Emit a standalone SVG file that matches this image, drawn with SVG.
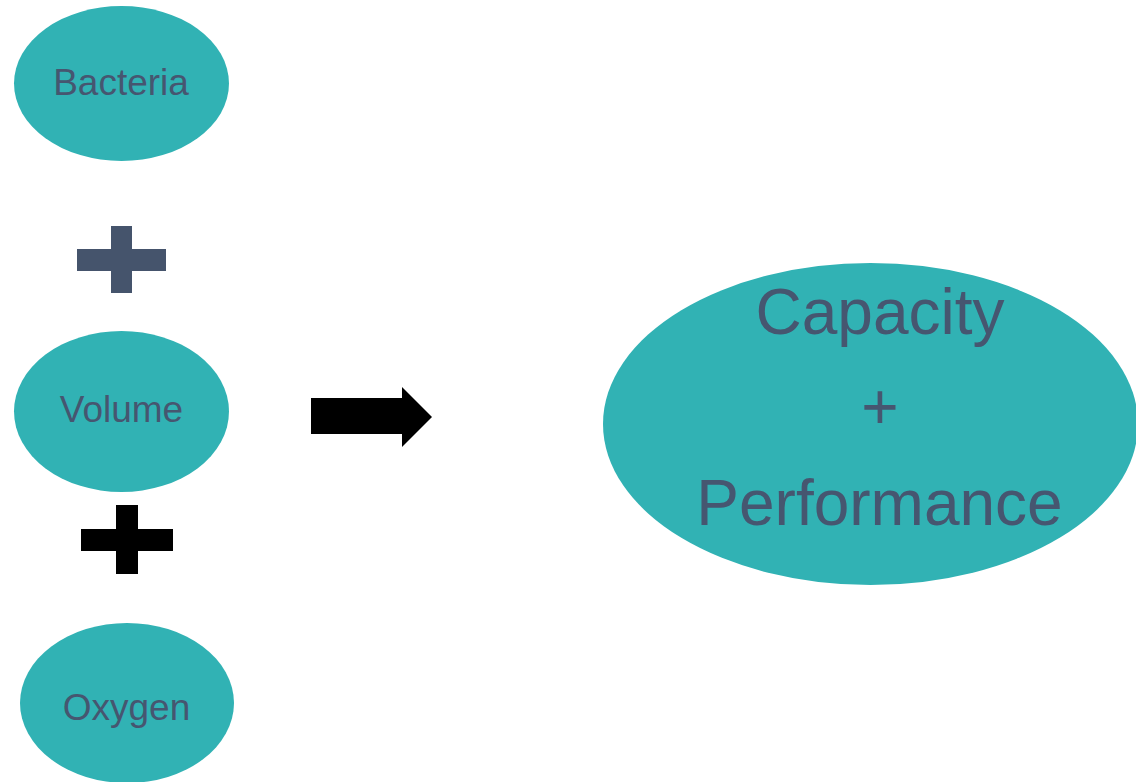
<svg xmlns="http://www.w3.org/2000/svg" width="1136" height="782" viewBox="0 0 1136 782">
<style>
.node{fill:#31b2b4}
.lbl{font-family:"Liberation Sans",Arial,sans-serif;fill:#465670;text-anchor:middle}
.sm{font-size:37px}
.lg{font-size:64px}
</style>
<rect width="1136" height="782" fill="#ffffff"/>
<g id="bacteria">
<ellipse class="node" cx="121.5" cy="83.5" rx="107.5" ry="77.5"/>
<text class="lbl sm" x="121" y="95">Bacteria</text>
</g>
<g id="volume">
<ellipse class="node" cx="121.5" cy="411.5" rx="107.5" ry="80.5"/>
<text class="lbl sm" x="121.5" y="422">Volume</text>
</g>
<g id="oxygen">
<ellipse class="node" cx="127" cy="703" rx="107" ry="80"/>
<text class="lbl sm" x="126.5" y="720">Oxygen</text>
</g>
<g id="result">
<ellipse class="node" cx="870.5" cy="424" rx="267.5" ry="161"/>
<text class="lbl lg" x="880" y="334">Capacity</text>
<text class="lbl lg" x="880" y="429">+</text>
<text class="lbl lg" x="879.5" y="525">Performance</text>
</g>
<g id="connectors">
<path d="M77 249H111V226H132V249H166V271H132V293H111V271H77Z" fill="#45546c"/>
<path d="M81 529H116V505H138V529H173V551H138V574H116V551H81Z" fill="#000000"/>
<path d="M311 398H402V387L432 417L402 447V434H311Z" fill="#000000"/>
</g>
</svg>
